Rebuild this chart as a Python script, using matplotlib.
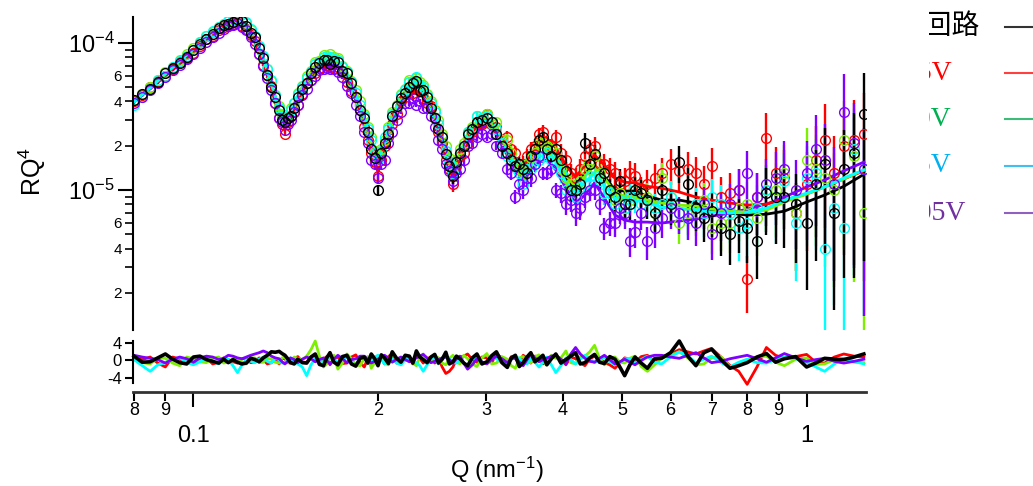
import numpy as np
import matplotlib
matplotlib.use('Agg')
import matplotlib.pyplot as plt
from matplotlib.ticker import FixedLocator, FuncFormatter
from matplotlib.lines import Line2D
from matplotlib.transforms import Bbox, TransformedBbox

plt.rcParams['font.family'] = ['Liberation Sans', 'DejaVu Sans']
plt.rcParams['mathtext.fontset'] = 'custom'
plt.rcParams['mathtext.rm'] = 'Liberation Sans'
plt.rcParams['mathtext.it'] = 'Liberation Sans:italic'
plt.rcParams['mathtext.default'] = 'regular'

# Q (nm^-1), shared by fits, first set of points and residuals
q = [0.08, 0.085, 0.09, 0.095, 0.10, 0.105, 0.11, 0.114, 0.118, 0.122,
     0.126, 0.13, 0.134, 0.138, 0.141, 0.144, 0.148, 0.153, 0.158, 0.163,
     0.167, 0.172, 0.178, 0.184, 0.19, 0.195, 0.2, 0.205, 0.211, 0.218,
     0.225, 0.231, 0.237, 0.244, 0.251, 0.258, 0.265, 0.272, 0.28, 0.29,
     0.301, 0.312, 0.325, 0.335, 0.345, 0.355, 0.366, 0.377, 0.39, 0.405,
     0.42, 0.435, 0.451, 0.468, 0.487, 0.505, 0.525, 0.55, 0.58, 0.62,
     0.66, 0.70, 0.75, 0.80, 0.86, 0.92, 1.0, 1.07, 1.15, 1.24]

# Q of the points lying between those above
q_mid = [0.0825, 0.0875, 0.0925, 0.0975, 0.1025, 0.1075, 0.112, 0.116, 0.12, 0.124,
         0.128, 0.132, 0.136, 0.1395, 0.1425, 0.146, 0.1505, 0.1555, 0.1605, 0.165,
         0.1695, 0.175, 0.181, 0.187, 0.1925, 0.1975, 0.2025, 0.208, 0.2145, 0.2215,
         0.228, 0.234, 0.2405, 0.2475, 0.2545, 0.2615, 0.2685, 0.276, 0.285, 0.2955,
         0.3065, 0.3185, 0.33, 0.34, 0.35, 0.3605, 0.3715, 0.3835, 0.3975, 0.4125,
         0.4275, 0.443, 0.4595, 0.4775, 0.496, 0.515, 0.5375, 0.565, 0.60, 0.64,
         0.68, 0.725, 0.775, 0.83, 0.89, 0.96, 1.035, 1.11, 1.195]

# RQ^4 in units of 1e-5
data_black = [4.1, 4.9, 6.2, 7.3, 9.0, 10.6, 12.6, 13.4, 14.5, 13.0,
              10.9, 7.9, 5.0, 3.5, 2.9, 3.2, 4.3, 5.3, 6.9, 7.6,
              7.2, 7.4, 6.2, 4.3, 3.1, 1.9, 1.0, 2.1, 3.2, 4.2,
              5.0, 5.5, 4.8, 3.6, 2.6, 1.75, 1.25, 1.8, 2.4, 2.9,
              3.1, 2.4, 1.8, 1.45, 1.4, 1.7, 2.2, 1.9, 1.9, 1.35,
              1.0, 2.1, 1.75, 1.3, 0.9, 0.8, 1.0, 0.85, 1.0, 1.55,
              0.75, 0.72, 0.5, 0.55, 0.95, 0.9, 0.6, 1.5, 1.4, 3.3]
data_red = [4.0, 5.0, 6.0, 7.4, 8.6, 10.6, 12.2, 13.1, 14.0, 12.4,
            10.3, 7.1, 5.1, 3.1, 2.4, 3.2, 3.8, 5.3, 6.2, 7.2,
            6.9, 6.9, 5.4, 4.3, 2.7, 1.8, 1.25, 2.0, 2.8, 4.0,
            4.7, 4.9, 4.2, 3.7, 2.5, 1.6, 1.1, 1.7, 2.1, 2.9,
            3.3, 2.7, 2.3, 1.8, 1.5, 1.9, 2.4, 2.0, 2.3, 1.6,
            1.2, 1.7, 2.0, 1.5, 1.3, 1.15, 1.25, 1.1, 1.3, 1.35,
            1.3, 1.45, 0.95, 0.25, 2.25, 1.2, 1.1, 2.2, 2.0, 2.4]
data_green = [4.1, 5.0, 6.3, 7.6, 9.2, 11.2, 12.8, 14.0, 14.8, 13.7,
              11.0, 8.2, 5.5, 3.7, 3.0, 3.6, 4.6, 6.0, 7.4, 8.3,
              8.4, 7.9, 6.4, 4.8, 3.3, 2.3, 1.7, 2.2, 3.4, 4.5,
              5.6, 5.8, 5.2, 4.0, 3.0, 2.0, 1.45, 1.9, 2.5, 3.2,
              3.3, 2.9, 2.2, 1.5, 1.3, 1.65, 2.1, 2.0, 1.8, 1.2,
              1.0, 1.4, 1.7, 1.3, 0.85, 0.75, 1.0, 0.9, 1.2, 0.6,
              0.7, 0.55, 0.6, 0.8, 1.0, 1.3, 1.6, 1.2, 2.2, 0.7]
data_cyan = [3.8, 4.9, 6.0, 7.5, 9.0, 11.1, 12.9, 14.2, 15.0, 13.8,
             11.2, 8.1, 5.6, 3.6, 3.0, 3.5, 4.5, 5.8, 7.2, 8.0,
             8.0, 7.6, 6.3, 4.6, 3.2, 2.2, 1.6, 2.3, 3.3, 4.4,
             5.4, 5.9, 5.0, 3.9, 2.8, 1.85, 1.3, 1.8, 2.5, 3.2,
             3.2, 2.6, 1.7, 1.5, 1.1, 1.4, 1.6, 1.8, 1.5, 1.0,
             0.9, 1.1, 1.25, 0.95, 0.8, 0.75, 0.9, 0.85, 0.8, 0.7,
             0.8, 0.9, 0.7, 0.6, 1.0, 1.15, 1.2, 0.4, 0.55, 1.4]
data_purple = [3.9, 4.8, 5.9, 7.1, 8.4, 10.2, 11.7, 13.0, 13.6, 12.2,
               9.8, 7.0, 4.8, 3.1, 2.55, 3.0, 3.8, 4.9, 6.0, 6.6,
               6.6, 6.3, 5.1, 3.8, 2.5, 1.6, 1.2, 1.6, 2.5, 3.4,
               3.9, 3.8, 3.6, 3.2, 2.2, 1.5, 1.15, 1.4, 2.0, 2.3,
               2.3, 2.0, 1.4, 0.9, 1.0, 1.2, 1.7, 1.3, 1.0, 0.8,
               0.7, 0.9, 1.0, 0.55, 0.6, 0.7, 0.52, 0.45, 0.65, 0.7,
               0.6, 0.5, 0.8, 1.3, 1.1, 1.4, 1.3, 1.6, 3.4, 1.4]

mid_black = [4.5, 5.4, 6.8, 8.0, 9.9, 11.5, 13.2, 13.8, 14.0, 11.7,
             9.2, 6.1, 4.3, 3.0, 3.1, 3.6, 4.9, 6.2, 7.3, 7.6,
             7.5, 6.4, 5.3, 3.5, 2.5, 1.65, 1.8, 2.4, 3.7, 4.6,
             5.3, 4.7, 4.3, 3.1, 2.3, 1.45, 1.55, 2.0, 2.6, 3.0,
             2.9, 2.0, 1.6, 1.5, 1.3, 1.9, 2.3, 1.7, 1.6, 1.0,
             1.1, 1.5, 1.2, 1.0, 1.15, 0.8, 0.95, 0.7, 0.8, 1.1,
             0.65, 0.55, 0.62, 0.45, 0.9, 0.8, 1.1, 0.7, 1.8]
mid_red = [4.4, 5.5, 6.7, 7.9, 9.6, 11.2, 12.8, 13.4, 13.0, 11.4,
           8.4, 6.1, 3.9, 2.8, 2.9, 3.4, 4.5, 5.6, 6.8, 7.1,
           6.8, 6.3, 4.7, 3.5, 2.2, 1.55, 1.6, 2.3, 3.3, 4.3,
           4.6, 4.8, 3.9, 3.1, 2.1, 1.4, 1.45, 1.8, 2.5, 2.8,
           2.9, 2.2, 1.9, 1.5, 1.7, 2.0, 2.5, 2.0, 1.8, 1.3,
           1.4, 1.9, 1.5, 1.4, 1.1, 1.3, 1.0, 1.2, 1.5, 1.4,
           1.1, 0.9, 1.0, 0.9, 1.3, 0.7, 1.6, 1.3, 2.2]
mid_green = [4.5, 5.6, 6.9, 8.4, 10.1, 11.9, 13.4, 14.3, 14.2, 12.3,
             9.5, 6.7, 4.4, 3.3, 3.2, 3.9, 5.1, 6.4, 7.5, 8.2,
             8.0, 7.0, 5.5, 4.0, 2.7, 1.85, 1.9, 2.7, 3.8, 4.9,
             5.5, 5.4, 4.5, 3.5, 2.4, 1.65, 1.6, 2.1, 2.7, 3.1,
             2.8, 2.2, 1.8, 1.4, 1.5, 1.8, 2.1, 1.9, 1.4, 1.1,
             1.15, 1.4, 1.3, 1.0, 0.95, 0.85, 0.95, 0.7, 0.9, 0.7,
             0.85, 0.6, 0.75, 0.65, 1.0, 0.7, 1.4, 1.0, 1.7]
mid_cyan = [4.3, 5.6, 6.9, 8.2, 10.2, 12.0, 13.5, 14.5, 14.3, 12.4,
            9.5, 6.6, 4.4, 3.2, 3.1, 3.9, 5.0, 6.3, 7.4, 7.9,
            7.8, 6.9, 5.4, 3.8, 2.6, 1.8, 1.85, 2.6, 3.7, 4.8,
            5.4, 5.2, 4.4, 3.4, 2.3, 1.55, 1.55, 2.0, 2.6, 3.1,
            2.9, 2.1, 1.6, 1.3, 1.4, 1.7, 1.7, 1.6, 1.3, 1.0,
            1.05, 1.25, 1.15, 0.95, 0.85, 0.9, 0.8, 0.75, 0.9, 0.65,
            0.7, 0.8, 0.55, 0.75, 0.9, 0.6, 1.3, 0.75, 1.9]
mid_purple = [4.3, 5.3, 6.5, 7.8, 9.3, 11.0, 12.4, 13.2, 12.9, 11.0,
              8.4, 5.8, 3.9, 2.9, 2.8, 3.4, 4.4, 5.6, 6.5, 6.8,
              6.7, 5.9, 4.6, 3.2, 2.1, 1.5, 1.5, 2.1, 3.0, 3.9,
              4.2, 4.0, 3.6, 2.7, 1.9, 1.35, 1.3, 1.6, 2.1, 2.4,
              2.4, 1.8, 1.3, 1.1, 1.2, 1.5, 1.3, 1.4, 0.95, 0.85,
              0.75, 1.0, 0.8, 0.6, 0.75, 0.45, 0.7, 0.55, 0.75, 0.65,
              0.8, 0.7, 1.0, 0.9, 1.2, 1.0, 1.9, 1.1, 2.1]

# relative error of each point
rel_err = [0.01, 0.01, 0.01, 0.01, 0.01, 0.01, 0.01, 0.01, 0.01, 0.01,
           0.01, 0.01, 0.01, 0.01, 0.03, 0.02, 0.02, 0.02, 0.02, 0.02,
           0.03, 0.03, 0.03, 0.04, 0.05, 0.07, 0.09, 0.07, 0.05, 0.04,
           0.04, 0.04, 0.05, 0.06, 0.08, 0.10, 0.12, 0.10, 0.07, 0.06,
           0.06, 0.07, 0.09, 0.11, 0.13, 0.12, 0.10, 0.10, 0.12, 0.15,
           0.18, 0.16, 0.15, 0.17, 0.20, 0.22, 0.22, 0.25, 0.27, 0.28,
           0.30, 0.33, 0.38, 0.42, 0.48, 0.55, 0.65, 0.75, 0.82, 0.90]
rel_err_mid = [0.01, 0.01, 0.01, 0.01, 0.01, 0.01, 0.01, 0.01, 0.01, 0.01,
               0.01, 0.01, 0.01, 0.02, 0.025, 0.02, 0.02, 0.02, 0.02, 0.025,
               0.03, 0.03, 0.035, 0.045, 0.06, 0.08, 0.08, 0.06, 0.045, 0.04,
               0.04, 0.045, 0.055, 0.07, 0.09, 0.11, 0.11, 0.085, 0.065, 0.06,
               0.065, 0.08, 0.10, 0.12, 0.125, 0.11, 0.10, 0.11, 0.135, 0.165,
               0.17, 0.155, 0.16, 0.185, 0.21, 0.22, 0.235, 0.26, 0.275, 0.29,
               0.315, 0.355, 0.40, 0.45, 0.52, 0.60, 0.70, 0.78, 0.86]

# fitted curves (1e-5)
fit_black = [4.04, 4.95, 6.10, 7.42, 8.85, 10.8, 12.4, 13.6, 14.2, 13.3,
             10.65, 7.66, 5.18, 3.40, 2.77, 3.29, 4.16, 5.43, 6.76, 7.42,
             7.45, 7.19, 5.96, 4.43, 2.99, 2.02, 1.46, 2.02, 3.04, 4.10,
             4.87, 5.18, 4.65, 3.79, 2.77, 1.81, 1.30, 1.65, 2.26, 2.77,
             2.95, 2.56, 1.87, 1.53, 1.35, 1.60, 1.93, 2.09, 1.73, 1.24,
             1.05, 1.30, 1.48, 1.24, 1.00, 0.985, 0.985, 0.91, 0.855, 0.855,
             0.816, 0.73, 0.697, 0.676, 0.686, 0.719, 0.829, 0.925, 1.06, 1.28]
fit_red = [4.04, 4.95, 6.06, 7.30, 8.70, 10.5, 12.05, 13.3, 13.8, 12.6,
           10.15, 7.30, 4.95, 3.19, 2.60, 3.09, 3.91, 5.10, 6.35, 6.97,
           7.08, 6.76, 5.60, 4.16, 2.81, 1.87, 1.37, 1.87, 2.86, 3.85,
           4.57, 4.87, 4.43, 3.62, 2.64, 1.73, 1.24, 1.58, 2.19, 2.72,
           2.95, 2.68, 2.02, 1.65, 1.41, 1.73, 2.12, 2.26, 1.93, 1.48,
           1.22, 1.48, 1.73, 1.48, 1.21, 1.13, 1.12, 1.06, 1.03, 0.97,
           0.896, 0.855, 0.816, 0.79, 0.803, 0.855, 0.939, 1.05, 1.19, 1.35]
fit_green = [4.04, 4.95, 6.16, 7.54, 9.10, 11.0, 12.6, 13.8, 14.45, 13.4,
             10.8, 7.90, 5.34, 3.50, 2.90, 3.45, 4.36, 5.68, 6.97, 7.80,
             7.85, 7.54, 6.25, 4.65, 3.14, 2.12, 1.53, 2.12, 3.19, 4.29,
             5.18, 5.51, 4.95, 3.91, 2.90, 1.90, 1.37, 1.73, 2.37, 2.90,
             3.04, 2.68, 1.96, 1.55, 1.33, 1.60, 1.93, 2.09, 1.73, 1.26,
             1.05, 1.24, 1.48, 1.21, 0.954, 0.91, 0.896, 0.855, 0.816, 0.79,
             0.778, 0.742, 0.719, 0.708, 0.73, 0.829, 0.939, 1.05, 1.19, 1.37]
fit_cyan = [3.97, 4.95, 6.16, 7.54, 9.10, 11.0, 12.7, 13.98, 14.57, 13.5,
            11.0, 7.90, 5.34, 3.50, 2.86, 3.40, 4.36, 5.60, 6.86, 7.66,
            7.75, 7.42, 6.16, 4.57, 3.09, 2.09, 1.50, 2.09, 3.14, 4.23,
            5.10, 5.43, 4.87, 3.85, 2.86, 1.87, 1.35, 1.70, 2.33, 2.86,
            3.04, 2.64, 1.87, 1.48, 1.22, 1.48, 1.75, 1.87, 1.55, 1.13,
            0.954, 1.13, 1.30, 1.08, 0.882, 0.868, 0.855, 0.816, 0.766, 0.754,
            0.73, 0.708, 0.697, 0.708, 0.754, 0.855, 0.954, 1.05, 1.21, 1.37]
fit_purple = [3.97, 4.87, 5.96, 7.19, 8.55, 10.3, 11.86, 13.05, 13.4, 12.4,
              10.0, 7.19, 4.95, 3.24, 2.72, 3.14, 3.97, 5.10, 6.35, 6.97,
              6.97, 6.66, 5.51, 4.10, 2.72, 1.81, 1.33, 1.81, 2.72, 3.68,
              4.43, 4.72, 4.29, 3.45, 2.52, 1.68, 1.22, 1.50, 2.05, 2.56,
              2.72, 2.40, 1.73, 1.37, 1.17, 1.37, 1.55, 1.60, 1.37, 1.03,
              0.816, 0.925, 1.12, 0.882, 0.676, 0.625, 0.606, 0.606, 0.597, 0.616,
              0.635, 0.665, 0.697, 0.742, 0.803, 0.896, 1.05, 1.17, 1.35, 1.55]

# residuals at q and at q_mid
res_black = [1.0, -0.3, 1.5, -0.5, 0.8, 0.2, -0.6, -0.5, -0.4, -0.6,
             0.2, 0.6, 2.0, 2.1, 1.2, -0.5, 0.3, -0.6, 1.5, -1.2,
             1.8, -1.0, 1.2, -1.3, 0.8, 1.5, -1.2, 0.6, 2.0, -0.4,
             1.0, 2.2, 0.2, 0.8, -0.6, 1.9, -0.3, 0.4, -1.2, 1.5,
             -0.3, 2.0, -1.6, 1.2, -0.5, 1.8, 0.4, -1.0, 1.5, 0.2,
             1.8, -0.5, 1.4, -0.7, 0.3, -3.5, 0.8, -1.8, 0.5, 4.5,
             -1.2, 2.6, -1.8, -0.5, 1.6, 0.4, -1.5, 0.5, 0.2, 1.5]
res_red = [0.5, 0.8, -1.5, 0.3, -0.8, 0.6, -0.4, 0.2, -0.6, 0.5,
           -0.3, 0.2, -0.5, -0.8, 0.4, -0.6, 0.9, -0.5, 1.2, 0.3,
           -1.0, 0.8, -0.6, 1.3, -1.5, 0.7, 1.0, -0.8, 1.6, -0.5,
           0.4, 1.2, -0.6, 0.8, 0.5, -3.0, -1.5, 0.8, 1.5, -0.4,
           0.6, 1.5, -0.8, 0.4, 1.2, -0.6, 0.9, -0.3, 1.1, -1.0,
           0.4, -1.2, 1.0, -0.5, -1.8, 0.6, -0.4, 1.2, 0.8, 2.5,
           1.5, 2.8, -1.2, -5.5, 3.0, 0.5, 1.4, -0.6, 1.5, 0.8]
res_green = [0.3, -0.8, 0.5, -1.2, 0.4, -0.5, 0.8, -0.3, 0.5, -0.8,
             0.6, -0.4, 0.3, -0.6, 0.8, -0.4, 0.5, 1.0, 4.5, -1.5,
             0.6, -2.0, 1.5, -1.0, 0.5, -1.8, 1.0, -0.6, 1.4, -0.9,
             0.8, -1.2, 1.5, -0.5, 0.6, -1.0, 1.2, -0.8, 0.4, -1.4,
             1.6, -0.6, 0.3, -1.8, 0.9, -0.5, 1.3, -1.0, 0.5, 2.2,
             -0.8, 1.0, 3.5, -1.0, 0.8, -0.6, 1.0, -2.5, 0.5, 2.0,
             -1.0, 0.6, -1.5, 0.2, 1.0, -1.2, 0.6, -0.8, 0.4, -0.5]
res_cyan = [0.2, -2.5, -0.5, 0.6, -1.0, 0.4, -0.8, 0.3, -2.8, 0.2,
            -0.5, 0.8, -0.6, 0.2, -0.5, 0.6, -0.8, -3.5, 0.5, -0.6,
            1.0, -0.4, 0.8, -1.2, 0.5, -0.3, 1.2, -0.8, 0.4, -1.0,
            0.6, -0.5, -2.5, 0.6, -0.8, 1.0, -0.5, 0.3, -1.2, 0.8,
            -0.6, 0.4, -1.0, 1.0, -0.4, 0.5, -1.5, 0.8, -2.8, 0.6,
            -0.8, 1.2, -0.5, 0.7, -1.0, 0.4, -0.6, 1.0, -0.8, 2.0,
            -0.5, 1.0, -1.5, 0.3, -0.6, 0.8, -0.4, -2.5, 0.5, -0.8]
res_purple = [1.2, 0.5, -0.6, 0.8, -0.4, 1.0, 0.2, 1.2, 0.6, 0.8,
              1.5, 2.2, 1.0, 0.4, -0.8, 0.6, -0.5, 0.8, -0.3, 0.6,
              -0.8, 1.2, -0.5, 0.4, 1.0, -0.6, 0.3, 1.2, -0.4, 0.8,
              -0.3, 0.6, 1.4, -0.5, 0.2, 0.8, -0.6, 1.0, -2.0, 0.4,
              -0.8, 1.0, -0.5, 0.8, -1.2, 1.5, -0.3, 0.5, 1.2, -0.8,
              3.0, 0.5, -0.4, 1.2, -0.8, 0.3, -1.0, 0.8, 1.2, 0.5,
              1.8, -0.5, 0.4, 1.2, -0.4, 1.6, -0.2, 0.5, -0.6, 0.3]

res_mid_black = [-0.4, 0.6, 0.3, -0.8, 1.0, -0.2, 0.3, 0.2, -0.8, 0.5,
                 -0.3, 1.2, 1.9, 1.6, 0.4, -0.8, -0.5, 0.8, -0.9, 0.6,
                 -0.4, 0.9, -0.8, 0.5, -0.6, 0.4, 1.3, -0.7, 0.5, 1.2,
                 -0.6, 0.8, -0.5, 1.4, 0.3, -0.8, 1.0, -0.6, 0.6, -0.8,
                 1.1, -0.5, 0.6, -1.4, 0.8, -0.3, 1.2, 0.4, -0.6, 1.0,
                 -0.8, 0.6, -0.4, 0.9, -1.5, -1.0, -0.6, 0.4, 1.8, 1.0,
                 1.8, 0.2, -1.2, 0.8, -0.4, 0.9, -0.6, 0.3, 0.8]
res_mid_red = [0.2, -0.6, 0.8, -0.4, 0.5, -0.8, 0.6, -0.3, 0.4, -0.5,
               0.6, -0.8, 0.3, 0.5, -0.5, 0.4, -0.3, 0.8, -0.6, 0.9,
               0.4, -0.7, 0.8, -0.5, 0.6, -0.4, 0.5, 0.9, -0.6, 1.0,
               -0.8, 0.5, 0.4, -0.6, -1.5, -2.5, 0.3, 1.0, 0.2, 0.8,
               -0.5, 0.6, 0.9, -0.6, 0.5, 1.0, -0.8, 0.6, 0.3, 0.8,
               -0.5, 0.4, 0.6, -1.0, -0.6, 0.3, 0.9, -0.4, 1.5, 2.0,
               2.2, 0.8, -2.5, -1.5, 1.2, 0.9, -0.4, 0.8, 1.0]
res_mid_green = [-0.5, 0.6, -0.6, 0.8, -0.3, 0.5, -0.6, 0.4, -0.3, 0.6,
                 -0.5, 0.5, -0.4, 0.6, -0.5, 0.8, 0.2, 2.5, 1.0, -0.8,
                 1.2, -0.6, 0.4, -1.2, 0.9, -0.5, 0.6, -1.0, 0.5, 1.0,
                 -0.6, 0.8, -0.4, 1.0, -0.6, 0.5, -0.3, 1.2, -0.8, 0.6,
                 -0.8, 0.9, -1.2, 0.6, -0.4, 0.8, -0.3, 1.2, 0.6, -0.5,
                 0.8, 2.0, 0.5, 0.6, -0.4, 0.5, -1.4, -1.0, 1.2, 0.6,
                 -0.8, 0.9, -0.6, 0.8, -0.4, 0.3, -0.9, 0.2, -0.4]
res_mid_cyan = [-1.2, -1.0, 0.2, -0.4, -0.3, -0.2, 0.5, -1.2, -1.0, -0.2,
                0.3, -0.2, 0.5, -0.6, 0.3, -0.2, -1.5, -1.0, 0.2, 0.4,
                0.2, 0.5, -0.4, 0.8, -0.6, 0.8, 0.2, -0.3, -0.6, 0.2,
                -0.4, -1.2, -1.0, 0.3, 0.2, 0.4, -0.6, -0.5, 0.3, -0.4,
                0.6, -0.5, 0.3, 0.4, -0.8, -0.4, -0.4, -1.0, -1.2, 0.2,
                0.3, 0.4, 0.2, -0.3, -0.5, 0.5, 0.2, -0.4, 0.8, 1.0,
                0.3, -0.5, -0.4, -0.5, 0.2, 0.4, -1.5, -0.8, -0.2]
res_mid_purple = [0.8, 0.2, 0.3, 0.4, 0.6, 0.8, 0.5, 1.0, 0.4, 1.2,
                  1.8, 1.8, 0.6, -0.3, -0.2, 0.2, 0.3, 0.4, 0.2, 0.0,
                  0.3, 0.4, 0.2, 1.0, 0.2, -0.2, 0.8, 0.5, 0.3, 0.2,
                  0.3, 1.0, 0.6, -0.2, 0.6, 0.2, 0.4, -0.6, -1.0, -0.3,
                  0.2, 0.4, 0.3, -0.4, 0.2, 0.6, 0.2, 1.0, 0.3, 1.5,
                  1.5, -0.2, 0.5, 0.2, -0.3, -0.4, 0.0, 1.2, 0.8, 1.2,
                  0.6, -0.2, 0.8, 0.4, 0.6, 0.6, 0.2, -0.2, -0.2]

labels = ['開回路', '0.5V', '1.0V', '1.5V', '0.05V']
data_colors = ['#000000', '#ff0000', '#7cf000', '#00ffff', '#7f00ff']
label_colors = ['#000000', '#ff0000', '#00b050', '#00b0f0', '#7030a0']
key_colors = ['#333333', '#ff4040', '#3cbc78', '#40c0f0', '#9060c0']

data = [data_black, data_red, data_green, data_cyan, data_purple]
mids = [mid_black, mid_red, mid_green, mid_cyan, mid_purple]
fits = [fit_black, fit_red, fit_green, fit_cyan, fit_purple]
resid = [res_black, res_red, res_green, res_cyan, res_purple]
resid_mid = [res_mid_black, res_mid_red, res_mid_green, res_mid_cyan, res_mid_purple]

W, H = 1033, 486
fig = plt.figure(figsize=(W / 100, H / 100), dpi=100)
ax = fig.add_axes([133 / W, 1 - 330 / H, 733 / W, 313 / H])
axr = fig.add_axes([133 / W, 1 - 383 / H, 733 / W, 42 / H], sharex=ax)

qa = np.array(q)
qm = np.array(q_mid)
order = np.argsort(np.concatenate([qa, qm]))
q_all = np.concatenate([qa, qm])[order]

# data points with error bars, black on top
for i in [1, 2, 3, 4, 0]:
    for qq, vals, e in [(qa, data[i], rel_err), (qm, mids[i], rel_err_mid)]:
        v = np.array(vals) * 1e-5
        ax.errorbar(qq, v, yerr=v * np.array(e), fmt='o', mfc='none', mec=data_colors[i],
                    ecolor=data_colors[i], ms=7, mew=1.0, elinewidth=1.7, capsize=0)

# fitted lines
for i in [0, 4, 1, 2, 3]:
    ax.plot(qa, np.array(fits[i]) * 1e-5, color=data_colors[i], lw=2.0)

# residuals
for i in [1, 2, 3, 4, 0]:
    r = np.concatenate([resid[i], resid_mid[i]])[order]
    axr.plot(q_all, r, color=data_colors[i], lw=2.6 if i == 0 else 2.0, clip_on=False)

ax.set_xscale('log')
ax.set_yscale('log')
ax.set_xlim(0.0797, 1.25)
ax.set_ylim(1.12e-6, 1.5e-4)
for s in ['top', 'right', 'bottom']:
    ax.spines[s].set_visible(False)
ax.spines['left'].set_linewidth(1.5)
ax.tick_params(axis='x', which='both', bottom=False, labelbottom=False)

ax.yaxis.set_major_locator(FixedLocator([1e-5, 1e-4]))
ax.yaxis.set_minor_locator(FixedLocator([m * 10.0 ** e for e in (-6, -5) for m in range(2, 10)]))
ax.yaxis.set_major_formatter(FuncFormatter(lambda v, p: r'$10^{%d}$' % int(round(np.log10(v)))))


def minor_y(v, pos):
    m = int(round(v / 10 ** np.floor(np.log10(v) + 1e-9)))
    return str(m) if m in (2, 4, 6) else ''


ax.yaxis.set_minor_formatter(FuncFormatter(minor_y))
ax.tick_params(axis='y', which='major', length=11, width=1.5, labelsize=17, pad=2)
ax.tick_params(axis='y', which='minor', length=6, width=1.2, labelsize=11, pad=2)

# residual panel
axr.set_ylim(-5.2, 4.5)
for s in ['top', 'right']:
    axr.spines[s].set_visible(False)
axr.spines['left'].set_linewidth(1.5)
axr.spines['bottom'].set_position(('outward', 6.5))
axr.spines['bottom'].set_linewidth(2.0)
axr.spines['bottom'].set_color('#333333')
axr.set_yticks([-4, 0, 4], labels=['-4', '0', '4'])
axr.tick_params(axis='y', length=6, width=1.5, labelsize=12, pad=2)

axr.xaxis.set_major_locator(FixedLocator([0.1, 1.0]))
axr.xaxis.set_minor_locator(FixedLocator([0.08, 0.09, 0.2, 0.3, 0.4, 0.5, 0.6, 0.7, 0.8, 0.9]))
axr.xaxis.set_major_formatter(FuncFormatter(lambda v, p: '0.1' if v < 0.5 else '1'))
axr.xaxis.set_minor_formatter(FuncFormatter(lambda v, p: str(int(round(v * 100 if v < 0.1 else v * 10)))))
axr.tick_params(axis='x', which='major', length=11, width=1.5, labelsize=17, pad=13)
axr.tick_params(axis='x', which='minor', length=6.5, width=1.5, labelsize=13, pad=1)

fig.text(32 / W, 1 - 172 / H, 'RQ$^4$', rotation=90, ha='center', va='center', fontsize=18)
fig.text(497 / W, 1 - 470 / H, 'Q (nm$^{-1}$)', ha='center', va='center', fontsize=17)

# legend on the right, its left side cut off
clip = TransformedBbox(Bbox([[929 / W, 0], [1, 1]]), fig.transFigure)
key_y = [27, 73, 119, 166, 213]
for i in range(5):
    t = fig.text(897 / W, 1 - key_y[i] / H, labels[i], color=label_colors[i], fontsize=20,
                 family=['Liberation Serif', 'Noto Sans CJK JP'], ha='left', va='center')
    t.set_clip_box(clip)
    t.set_clip_on(True)
    fig.add_artist(Line2D([1005 / W, 1.0], [1 - key_y[i] / H] * 2, transform=fig.transFigure,
                          color=key_colors[i], lw=1.5))

fig.savefig('out.png', dpi=100)
